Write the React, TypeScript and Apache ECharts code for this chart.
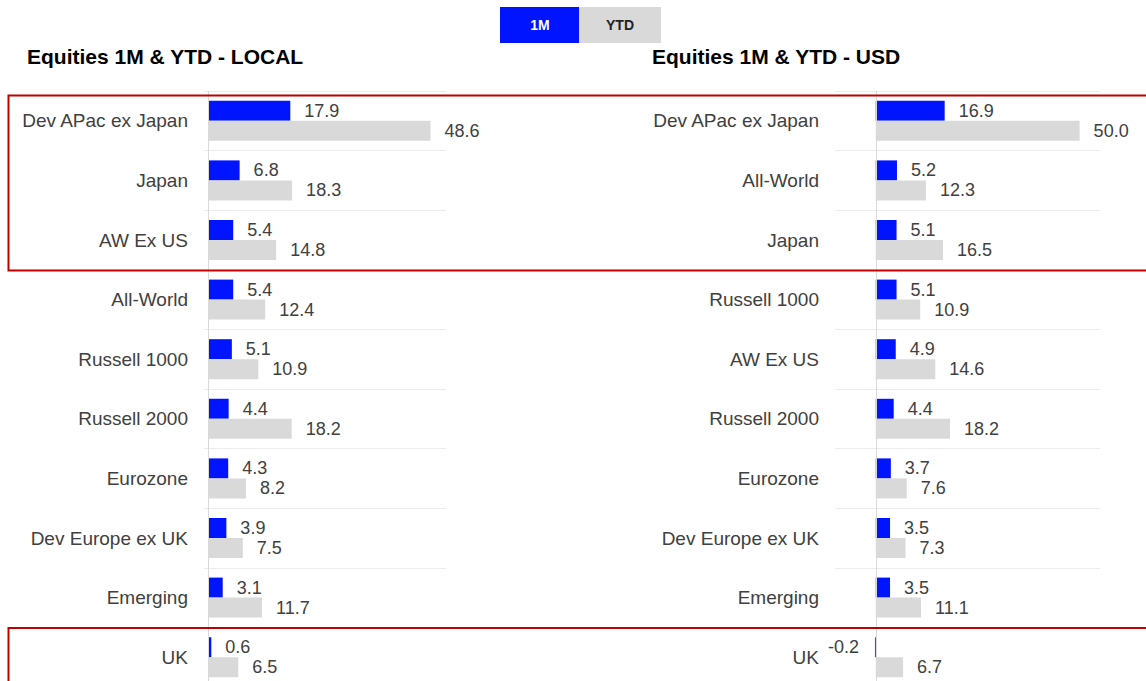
import React, { useEffect, useRef } from 'react';
import * as echarts from 'echarts';

const FONT = '"Liberation Sans", Arial, Helvetica, sans-serif';

const leftCategories = ['Dev APac ex Japan', 'Japan', 'AW Ex US', 'All-World', 'Russell 1000', 'Russell 2000', 'Eurozone', 'Dev Europe ex UK', 'Emerging', 'UK'];
const left1M = [17.9, 6.8, 5.4, 5.4, 5.1, 4.4, 4.3, 3.9, 3.1, 0.6];
const leftYTD = [48.6, 18.3, 14.8, 12.4, 10.9, 18.2, 8.2, 7.5, 11.7, 6.5];

const rightCategories = ['Dev APac ex Japan', 'All-World', 'Japan', 'Russell 1000', 'AW Ex US', 'Russell 2000', 'Eurozone', 'Dev Europe ex UK', 'Emerging', 'UK'];
const right1M = [16.9, 5.2, 5.1, 5.1, 4.9, 4.4, 3.7, 3.5, 3.5, -0.2];
const rightYTD = [50.0, 12.3, 16.5, 10.9, 14.6, 18.2, 7.6, 7.3, 11.1, 6.7];

const seriesNames = ['1M', 'YTD'];
const titles = ['Equities 1M & YTD - LOCAL', 'Equities 1M & YTD - USD'];

const BLUE = '#0014ff';
const GREY = '#d9d9d9';
const TEXT = '#404040';

function toItems(values: number[]) {
  return values.map((v) => ({
    value: v,
    label: { position: v < 0 ? 'left' : 'right', distance: v < 0 ? 16 : 14 },
  }));
}

function barSeries(name: string, values: number[], color: string, idx: number, withZero: boolean) {
  const s: any = {
    name,
    type: 'bar',
    xAxisIndex: idx,
    yAxisIndex: idx,
    barWidth: 20,
    barGap: '0%',
    itemStyle: { color },
    label: {
      show: true,
      color: TEXT,
      fontSize: 18,
      fontFamily: FONT,
      formatter: (p: any) => Number(p.value).toFixed(1),
    },
    data: toItems(values),
  };
  if (withZero) {
    s.markLine = {
      silent: true,
      symbol: ['none', 'none'],
      label: { show: false },
      lineStyle: { color: '#d9d9d9', type: 'solid', width: 1 },
      data: [{ xAxis: 0 }],
    };
  }
  return s;
}

export default function App() {
  const ref = useRef<HTMLDivElement>(null);

  useEffect(() => {
    if (!ref.current) return;
    const chart = echarts.init(ref.current, undefined, { renderer: 'svg' });
    const yAxisBase = (cats: string[], idx: number) => ({
      type: 'category',
      gridIndex: idx,
      inverse: true,
      data: cats,
      axisLine: { show: false },
      axisTick: { show: false },
      axisLabel: { margin: 16, color: TEXT, fontSize: 19, fontFamily: FONT },
      splitLine: { show: true, lineStyle: { color: '#ececec', width: 1 } },
    });
    const option: any = {
      animation: false,
      backgroundColor: '#ffffff',
      textStyle: { fontFamily: FONT },
      title: [
        { text: titles[0], left: 27, top: 46, padding: 0, textStyle: { fontSize: 21, fontWeight: 'bold', color: '#000', fontFamily: FONT } },
        { text: titles[1], left: 652, top: 46, padding: 0, textStyle: { fontSize: 21, fontWeight: 'bold', color: '#000', fontFamily: FONT } },
      ],
      grid: [
        { left: 204, top: 91, width: 242, height: 596, containLabel: false },
        { left: 835, top: 91, width: 265, height: 596, containLabel: false },
      ],
      xAxis: [
        { type: 'value', gridIndex: 0, min: -1, max: 52, show: false },
        { type: 'value', gridIndex: 1, min: -10, max: 55, show: false },
      ],
      yAxis: [yAxisBase(leftCategories, 0), yAxisBase(rightCategories, 1)],
      series: [
        barSeries(seriesNames[0], left1M, BLUE, 0, true),
        barSeries(seriesNames[1], leftYTD, GREY, 0, false),
        barSeries(seriesNames[0], right1M, BLUE, 1, true),
        barSeries(seriesNames[1], rightYTD, GREY, 1, false),
      ],
      graphic: [
        { type: 'rect', shape: { x: 500, y: 7, width: 79, height: 36 }, style: { fill: BLUE } },
        { type: 'rect', shape: { x: 579, y: 7, width: 82, height: 36 }, style: { fill: GREY } },
        { type: 'text', x: 540, y: 25, style: { text: seriesNames[0], fill: '#ffffff', font: `bold 14px ${FONT}`, align: 'center', verticalAlign: 'middle' } },
        { type: 'text', x: 620, y: 25, style: { text: seriesNames[1], fill: '#222222', font: `bold 14px ${FONT}`, align: 'center', verticalAlign: 'middle' } },
        { type: 'rect', z: 100, shape: { x: 8.5, y: 95.5, width: 1160, height: 175 }, style: { fill: 'none', stroke: '#c00000', lineWidth: 2 } },
        { type: 'rect', z: 100, shape: { x: 8.5, y: 628, width: 1160, height: 100 }, style: { fill: 'none', stroke: '#c00000', lineWidth: 2 } },
      ],
    };
    chart.setOption(option);
    return () => chart.dispose();
  }, []);

  return (
    <div
      ref={ref}
      style={{ position: 'fixed', left: 0, top: 0, width: 1146, height: 720, background: '#fff' }}
    />
  );
}
